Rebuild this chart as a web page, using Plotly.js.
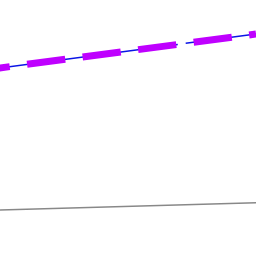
<!DOCTYPE html>
<html>
<head>
<meta charset="utf-8">
<script src="https://cdn.plot.ly/plotly-3.0.1.min.js"></script>
<style>html,body{margin:0;padding:0;background:#fff;}#chart{width:256px;height:256px;}</style>
</head>
<body>
<div id="chart"></div>
<script>
var xValues = [0, 10];
var upperSeries = [7.2, 8.67];
var lowerSeries = [1.77, 2.08];

var traces = [
  {x: xValues, y: lowerSeries, mode: 'lines', line: {color: '#888888', width: 1.5}, hoverinfo: 'skip'},
  {x: xValues, y: upperSeries, mode: 'lines', line: {color: '#0a14e6', width: 1.5, dash: '208px,8px'}, hoverinfo: 'skip'},
  {x: xValues, y: upperSeries, mode: 'lines', line: {color: '#bf00ff', width: 7, dash: '38.5px,17.5px'}, hoverinfo: 'skip'}
];

var layout = {
  width: 256, height: 256,
  margin: {l: 0, r: 0, t: 0, b: 0},
  paper_bgcolor: '#ffffff', plot_bgcolor: '#ffffff',
  showlegend: false,
  xaxis: {range: [1, 10], visible: false, showgrid: false, zeroline: false},
  yaxis: {range: [0, 10], visible: false, showgrid: false, zeroline: false}
};

Plotly.newPlot('chart', traces, layout, {displayModeBar: false, staticPlot: true});
</script>
</body>
</html>
